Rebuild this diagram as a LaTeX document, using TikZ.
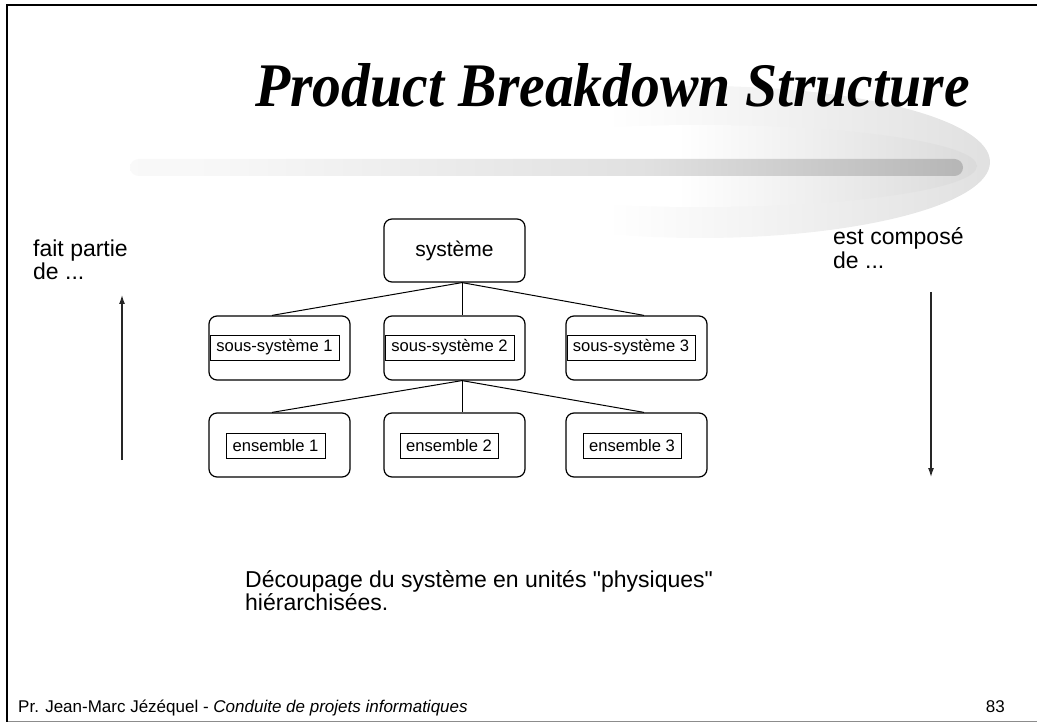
\documentclass[tikz,border=0pt]{standalone}
\usepackage{fontspec}
\setmainfont{Liberation Sans}
\newfontfamily\titlefont{Liberation Serif}
\usetikzlibrary{calc,arrows.meta}
\pgfdeclarehorizontalshading{barshade}{100bp}{color(0bp)=(white); color(30bp)=(black!3); color(56bp)=(black!12); color(80bp)=(black!33); color(92bp)=(black!55); color(100bp)=(black!80)}
\pgfdeclarehorizontalshading{outershade}{100bp}{color(0bp)=(white); color(42bp)=(white); color(75bp)=(black!12); color(100bp)=(black!24)}
\pgfdeclarehorizontalshading{innershade}{100bp}{color(0bp)=(white); color(48bp)=(white); color(78bp)=(black!16); color(100bp)=(black!32)}
\begin{document}
\begin{tikzpicture}[x=1pt,y=-1pt,
  bigbox/.style={draw, rounded corners=8pt, line width=1.2pt, minimum width=141pt, minimum height=63pt, inner sep=0pt},
  tag/.style={draw, line width=0.7pt, minimum height=25pt, inner sep=0pt, font=\fontsize{16.6}{20}\selectfont},
  link/.style={line width=1pt},
  lbl/.style={anchor=base west, inner sep=0pt, font=\fontsize{23}{27}\selectfont},
  foot/.style={inner sep=0pt, font=\fontsize{17}{20}\selectfont},
  dirarrow/.style={line width=1.2pt, black!85, -{Latex[length=9pt,width=6pt]}}]
\useasboundingbox (0,0) rectangle (1037,722);
% frame
\draw[line width=2.5pt] (7,722) -- (7,5) -- (1037,5);
\draw[black!45, line width=1pt] (8,721) -- (1037,721);
% swoosh
\shade[shading=outershade] (700,162) ellipse [x radius=290pt, y radius=76pt];
\shade[shading=innershade] (700,166) ellipse [x radius=277pt, y radius=41pt];
\shade[shading=barshade, rounded corners=8.5pt] (130,159) rectangle (963,176);
% title
\node[anchor=base west, inner sep=0pt, font=\titlefont\bfseries\itshape\fontsize{62}{64}\selectfont] (title) at (255,107) {\scalebox{0.93}[1]{Product Breakdown Structure}};
% tree
\node[bigbox, font=\fontsize{21}{25}\selectfont] (sys) at (454.5,250.5) {syst\`eme\hspace{14pt}};
\node[bigbox, minimum height=64pt] (ss1) at (279.5,348) {};
\node[bigbox, minimum height=64pt] (ss2) at (454.5,348) {};
\node[bigbox, minimum height=64pt] (ss3) at (636.5,348) {};
\node[tag, minimum width=129pt] (t1) at (274.5,347.5) {sous-syst\`eme 1};
\node[tag, minimum width=129pt] (t2) at (449.5,347.5) {sous-syst\`eme 2};
\node[tag, minimum width=128pt] (t3) at (631,347.5) {sous-syst\`eme 3};
\node[bigbox, minimum height=64pt] (e1) at (279.5,445) {};
\node[bigbox, minimum height=64pt] (e2) at (454.5,445) {};
\node[bigbox, minimum height=64pt] (e3) at (636.5,445) {};
\node[tag, minimum width=99pt] (u1) at (275.5,445.5) {ensemble 1};
\node[tag, minimum width=98pt] (u2) at (449,445.5) {ensemble 2};
\node[tag, minimum width=98pt] (u3) at (632,445.5) {ensemble 3};
\draw[link] ($(sys.south)+(7.5,0)$) -- ($(ss1.north)+(-7.5,0)$);
\draw[link] ($(sys.south)+(7.5,0)$) -- ($(ss2.north)+(7.5,0)$);
\draw[link] ($(sys.south)+(7.5,0)$) -- ($(ss3.north)+(7.5,0)$);
\draw[link] ($(ss2.south)+(7.5,0)$) -- ($(e1.north)+(-7.5,0)$);
\draw[link] ($(ss2.south)+(7.5,0)$) -- ($(e2.north)+(7.5,0)$);
\draw[link] ($(ss2.south)+(7.5,0)$) -- ($(e3.north)+(7.5,0)$);
% side labels and arrows
\node[lbl] (fp1) at (33,257) {fait partie};
\node[lbl] (fp2) at (33,280) {de ...};
\node[lbl] (ec1) at (833,245) {est compos\'e};
\node[lbl] (ec2) at (833,269) {de ...};
\coordinate (upfrom) at (122,460);
\coordinate (upto) at (122,295);
\draw[dirarrow] (upfrom) -- (upto);
\coordinate (downfrom) at (931,292);
\coordinate (downto) at (931,477);
\draw[dirarrow] (downfrom) -- (downto);
% bottom text
\node[lbl] (d1) at (245,587) {D\'ecoupage du syst\`eme en unit\'es \textquotedbl physiques\textquotedbl};
\node[lbl] (d2) at (245,610) {hi\'erarchis\'ees.};
% footer
\node[foot, anchor=base west] (author) at (18,712) {Pr. Jean-Marc J\'ez\'equel - \textit{Conduite de projets informatiques}};
\node[foot, anchor=base east] (page) at (1005,712) {83};
\end{tikzpicture}
\end{document}
